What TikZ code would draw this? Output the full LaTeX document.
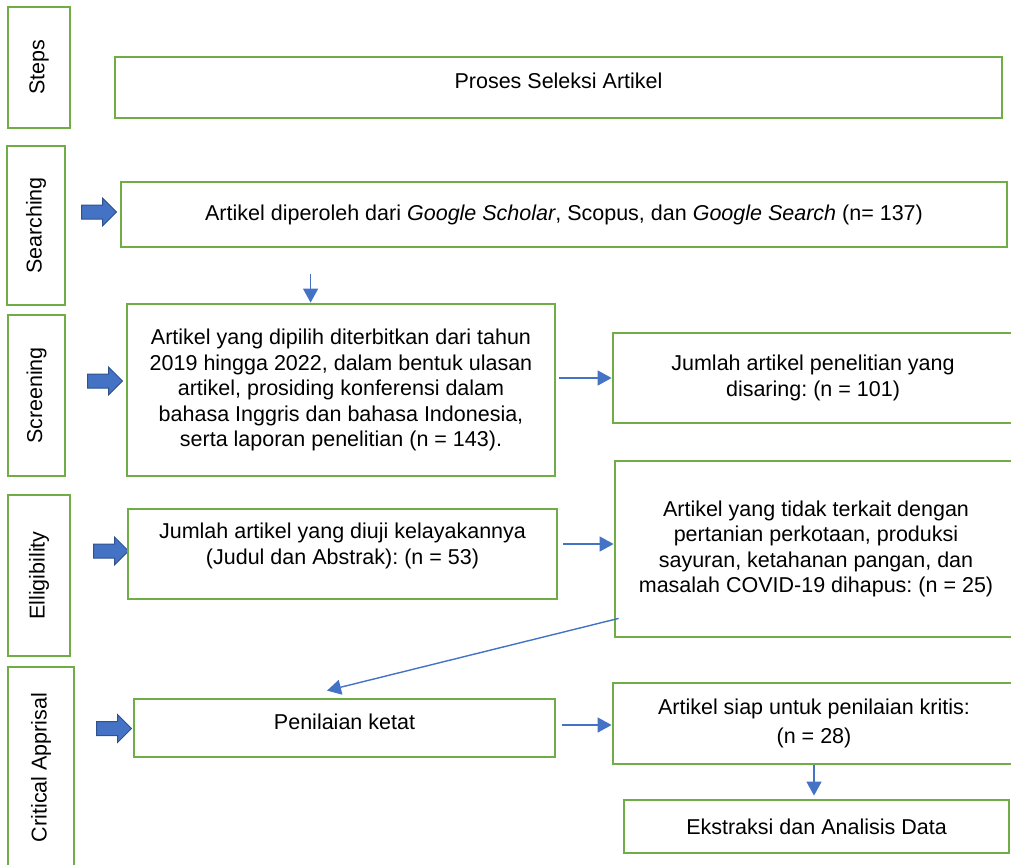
\documentclass[tikz,border=0pt]{standalone}
\usepackage{fontspec}
\setmainfont{Liberation Sans}
\frenchspacing
\usetikzlibrary{arrows.meta,shapes.arrows,calc}

\definecolor{boxgreen}{RGB}{112,173,71}
\definecolor{flowblue}{RGB}{68,114,196}
\definecolor{edgeblue}{RGB}{47,82,143}

\tikzset{
    stage/.style={draw=boxgreen, line width=2.8pt, rotate=90, inner sep=0pt},
    box/.style={draw=boxgreen, line width=2.8pt, align=center, inner sep=0pt},
    flow/.style={draw=flowblue, line width=1.4pt, -{Triangle[length=14pt,width=15pt]}},
    blockarrow/.style={single arrow, draw=edgeblue, fill=flowblue, line width=1pt,
        minimum width=27pt, minimum height=35pt, single arrow head extend=7pt,
        inner xsep=0pt, inner ysep=6.5pt}
}

\begin{document}
\begin{tikzpicture}[x=1pt, y=-1pt, font=\fontsize{21.5}{25.5}\selectfont]
                \useasboundingbox (0,0) rectangle (1011,864);
                \clip (0,0) rectangle (1011,864);

                \node[stage, minimum width=121pt, minimum height=62pt] (steps) at (39,67.5) {Steps};
                \node[stage, minimum width=159pt, minimum height=58pt] (searching) at (36,225.5) {Searching};
                \node[stage, minimum width=161pt, minimum height=57pt] (screening) at (36.5,395.5) {Screening};
                \node[stage, minimum width=161pt, minimum height=62pt] (elligibility) at (39,575.5) {Elligibility};
                \node[stage, minimum width=201pt, minimum height=66pt] (critical) at (41,767.5) {Critical Apprisal};

                \node[blockarrow] (searcharrow) at (95.5,212) {};
                \node[blockarrow] (screenarrow) at (101.5,381) {};
                \node[blockarrow] (eligarrow) at (107.5,551) {};
                \node[blockarrow] (critarrow) at (110.5,728.5) {};

                \node[box, minimum width=887pt, minimum height=61pt, label={[yshift=7pt]center:{Proses Seleksi Artikel}}] (proses) at (558.5,87.5) {};
                \node[box, minimum width=886pt, minimum height=65pt] (search) at (564,214.5) {Artikel diperoleh dari \textit{Google Scholar}, Scopus, dan \textit{Google Search} (n= 137)};
                \node[box, minimum width=428pt, minimum height=172pt] (screen) at (341,390) {Artikel yang dipilih diterbitkan dari tahun\\2019 hingga 2022, dalam bentuk ulasan\\artikel, prosiding konferensi dalam\\bahasa Inggris dan bahasa Indonesia,\\serta laporan penelitian (n = 143).};
                \node[box, minimum width=400pt, minimum height=90pt] (jumlah) at (813,378) {Jumlah artikel penelitian yang\\disaring: (n = 101)};
                \node[box, minimum width=429pt, minimum height=90pt, label={[yshift=8pt, align=center]center:{Jumlah artikel yang diuji kelayakannya\\(Judul dan Abstrak): (n = 53)}}] (elig) at (342.5,554) {};
                \node[box, minimum width=402pt, minimum height=176pt] (tidak) at (816,549) {Artikel yang tidak terkait dengan\\pertanian perkotaan, produksi\\sayuran, ketahanan pangan, dan\\masalah COVID-19 dihapus: (n = 25)};
                \node[box, minimum width=421pt, minimum height=58pt, label={[yshift=6pt]center:{Penilaian ketat}}] (penilaian) at (344.5,728) {};
                \node[box, minimum width=402pt, minimum height=81pt] (siap) at (814,723.5) {Artikel siap untuk penilaian kritis:\\[3pt](n = 28)};
                \node[box, minimum width=385pt, minimum height=53pt] (ekstraksi) at (816.5,826.5) {Ekstraksi dan Analisis Data};

                \coordinate (searchout) at ($(search.south west)+(191,26)$);
                \coordinate (tidakout) at ($(tidak.south west)+(5,-20)$);
                \coordinate (penilaianin) at ($(penilaian.north)+(-17.5,-7)$);

                \draw[flow] (searchout) to (searchout |- screen.north);
                \draw[flow, shorten <=3pt] (screen.east |- jumlah) to (jumlah);
                \draw[flow, shorten <=5pt] ([yshift=10pt]elig.east) to ([yshift=10pt]elig.east -| tidak.west);
                \draw[flow] (tidakout) to (penilaianin);
                \draw[flow, shorten <=6pt] ([yshift=3pt]penilaian.east) to ([yshift=3pt]penilaian.east -| siap.west);
                \draw[flow, shorten >=3pt] (siap) to (siap |- ekstraksi.north);
            \end{tikzpicture}
\end{document}
